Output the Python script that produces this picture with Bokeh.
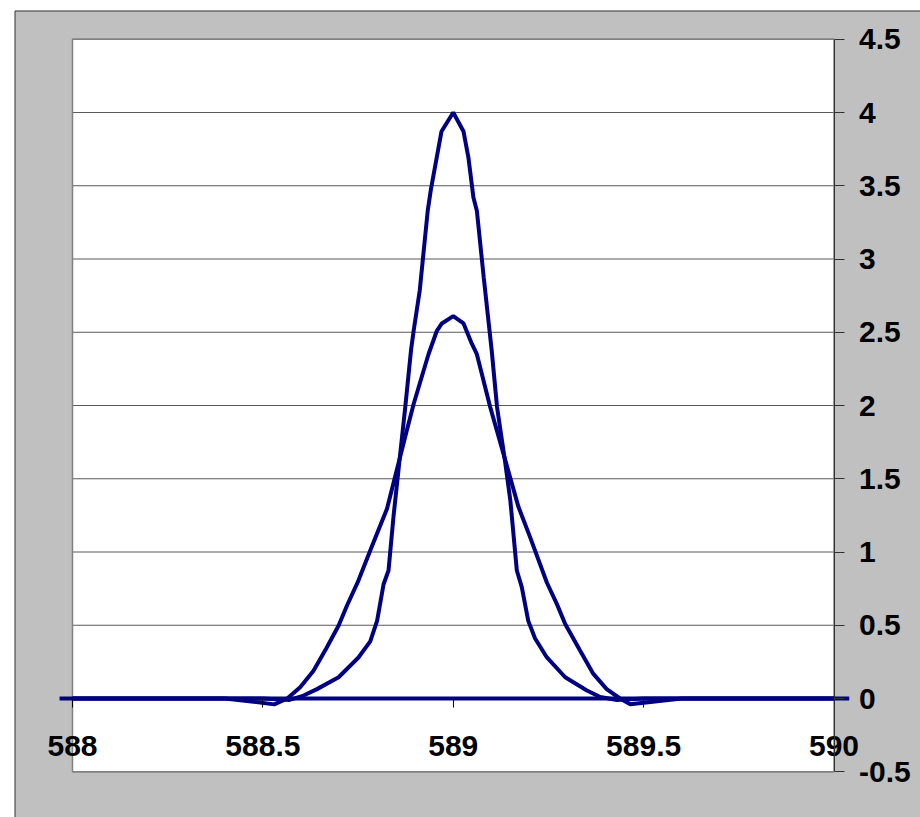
from bokeh.plotting import figure
from bokeh.models import Range1d, FixedTicker
from bokeh.embed import file_html
from bokeh.resources import INLINE

# ---- data ----
wide_x = [588.00, 588.40, 588.47, 588.53, 588.564, 588.598, 588.633, 588.666, 588.699,
          588.721, 588.751, 588.782, 588.826, 588.878, 588.896, 588.935, 588.957, 588.970,
          589.000, 589.027, 589.049, 589.062, 589.097, 589.132, 589.171, 589.202, 589.246,
          589.272, 589.294, 589.333, 589.368, 589.403, 589.438, 589.465, 589.53, 589.60, 590.00]
wide_y = [0.0, 0.0, -0.02, -0.04, 0.0, 0.077, 0.19, 0.34, 0.498,
          0.635, 0.805, 1.01, 1.295, 1.83, 2.01, 2.35, 2.51, 2.56,
          2.61, 2.56, 2.42, 2.35, 1.99, 1.67, 1.31, 1.10, 0.79,
          0.646, 0.509, 0.328, 0.168, 0.064, 0.0, -0.04, -0.02, 0.0, 0.0]

tall_x = [588.00, 588.50, 588.57, 588.607, 588.642, 588.699, 588.751, 588.782, 588.800,
          588.817, 588.830, 588.843, 588.857, 588.874, 588.889, 588.896, 588.912, 588.933,
          588.941, 588.969, 589.000, 589.027, 589.040, 589.053, 589.062, 589.080, 589.101,
          589.115, 589.136, 589.150, 589.167, 589.180, 589.197, 589.215, 589.246, 589.294,
          589.351, 589.386, 589.43, 589.50, 590.00]
tall_y = [0.0, 0.0, -0.01, 0.02, 0.064, 0.145, 0.28, 0.39, 0.53,
          0.78, 0.874, 1.24, 1.58, 1.99, 2.375, 2.51, 2.785, 3.33,
          3.47, 3.87, 4.00, 3.87, 3.69, 3.42, 3.33, 2.876, 2.375,
          1.99, 1.62, 1.35, 0.874, 0.76, 0.53, 0.41, 0.28, 0.145,
          0.055, 0.01, -0.01, 0.0, 0.0]

base_x = [587.966, 590.04]
base_y = [0.0, 0.0]

x_min, x_max = 588, 590
y_min, y_max = -0.5, 4.5
x_ticks = [588, 588.5, 589, 589.5, 590]
x_tick_labels = ["588", "588.5", "589", "589.5", "590"]
y_ticks = [-0.5, 0, 0.5, 1, 1.5, 2, 2.5, 3, 3.5, 4, 4.5]
y_tick_labels = ["-0.5", "0", "0.5", "1", "1.5", "2", "2.5", "3", "3.5", "4", "4.5"]

LINE = "#000080"
FONT = "Liberation Sans"

# ---- layout (pixels on the page; the figure fills the page from (0, 0)) ----
W, H = 920, 817
ORG = 0
PLOT_L, PLOT_R = 72.0, 833.5
PLOT_T, PLOT_B = 38.75, 771.25
SX = (PLOT_R - PLOT_L) / (x_max - x_min)
SY = (PLOT_B - PLOT_T) / (y_max - y_min)
xs = x_min - (PLOT_L - ORG) / SX
xe = xs + W / SX
yt = y_max + (PLOT_T - ORG) / SY
yb = yt - H / SY


def px2x(px):
    return xs + (px - ORG) / SX


def px2y(py):
    return yt - (py - ORG) / SY


p = figure(width=W, height=H,
           x_range=Range1d(xs, xe), y_range=Range1d(yb, yt),
           y_axis_location="right",
           output_backend="svg", toolbar_location=None,
           min_border_left=0, min_border_right=0, min_border_top=0, min_border_bottom=0,
           border_fill_color="white", background_fill_color="white",
           outline_line_color=None)

# grey chart area with dark edge, then white plot area
p.quad(left=[px2x(14.5)], right=[px2x(940)], top=[px2y(10.5)], bottom=[px2y(840)],
       fill_color="#C0C0C0", line_color="#303030", line_width=1)
p.quad(left=[x_min], right=[x_max], top=[y_max], bottom=[y_min],
       fill_color="white", line_color=None)

# horizontal grid lines across the plot area only
p.xgrid.visible = False
p.ygrid.visible = False
p.segment(x0=[x_min] * len(y_ticks), x1=[x_max] * len(y_ticks), y0=y_ticks, y1=y_ticks,
          line_color="#5a5a5a", line_width=1.2)

# plot-area border
p.quad(left=[x_min], right=[x_max], top=[y_max], bottom=[y_min],
       fill_color=None, line_color="#808080", line_width=1.5)

# y axis on the right edge of the plot area
ya = p.yaxis[0]
ya.fixed_location = x_max
ya.bounds = (y_min, y_max)
ya.ticker = FixedTicker(ticks=y_ticks)
ya.major_label_overrides = {t: l for t, l in zip(y_ticks, y_tick_labels)}
ya.axis_line_color = "#303030"
ya.axis_line_width = 1
ya.major_tick_line_color = "#303030"
ya.major_tick_out = 10
ya.major_tick_in = 0
ya.minor_tick_line_color = None
ya.major_label_standoff = 15
ya.major_label_text_font = FONT
ya.major_label_text_font_size = "30px"
ya.major_label_text_font_style = "bold"
ya.major_label_text_color = "black"

# x axis crossing at y = 0
xa = p.xaxis[0]
xa.fixed_location = 0
xa.bounds = (x_min, x_max)
xa.ticker = FixedTicker(ticks=x_ticks)
xa.major_label_overrides = {t: l for t, l in zip(x_ticks, x_tick_labels)}
xa.axis_line_color = None
xa.major_tick_line_color = "black"
xa.major_tick_out = 9
xa.major_tick_in = 0
xa.minor_tick_line_color = None
xa.major_label_standoff = 28
xa.major_label_text_font = FONT
xa.major_label_text_font_size = "30px"
xa.major_label_text_font_style = "bold"
xa.major_label_text_color = "black"

# series
p.line(base_x, base_y, line_color=LINE, line_width=4)
p.line(wide_x, wide_y, line_color=LINE, line_width=4)
p.line(tall_x, tall_y, line_color=LINE, line_width=4)

open("out.html", "w").write(file_html(p, INLINE))
